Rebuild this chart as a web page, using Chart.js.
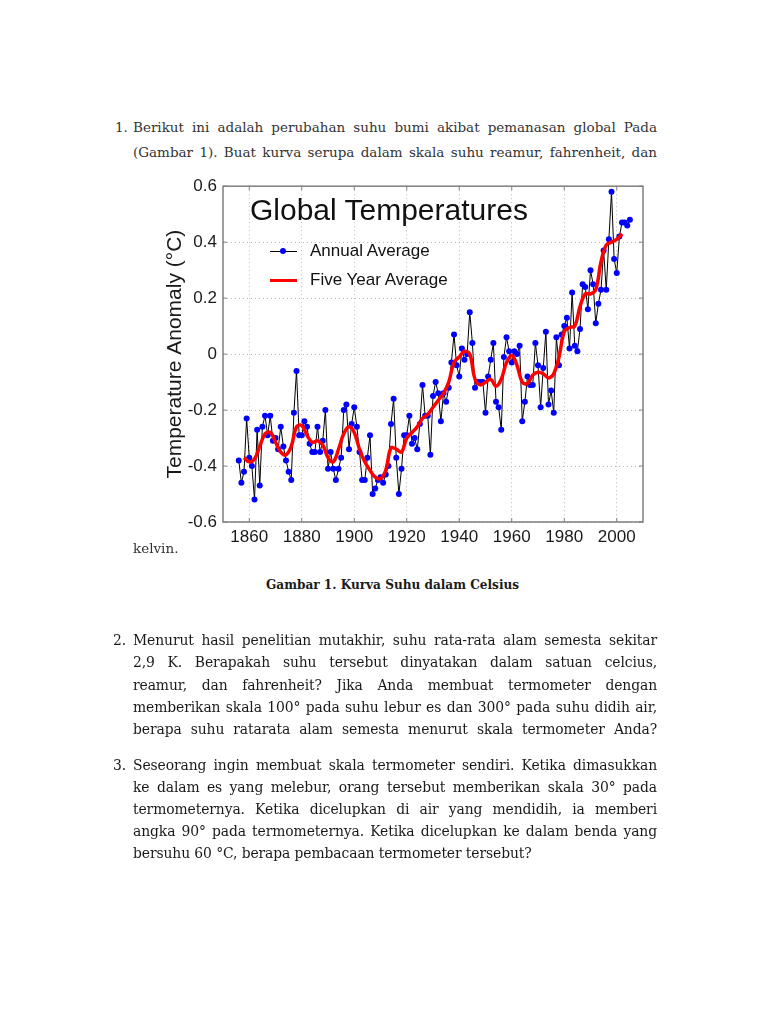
<!DOCTYPE html>
<html>
<head>
<meta charset="utf-8">
<script src="https://cdn.jsdelivr.net/npm/chart.js@4.4.1/dist/chart.umd.min.js"></script>
<style>
    body { margin: 0; background: #fff; }
    #page { position: relative; width: 768px; height: 1024px; overflow: hidden; background: #fff; }
    .txt { position: absolute; font-family: "DejaVu Serif", serif; color: #1a1a1a; white-space: nowrap; }
    .q1 { font-size: 13.5px; color: #333; height: 22px; line-height: 22px; }
    .q { font-size: 13.9px; letter-spacing: -0.1px; height: 22px; line-height: 22px; }
    .line { left: 133px; width: 524px; white-space: normal; }
    .just { text-align: justify; text-align-last: justify; }
    .caption { font-weight: bold; font-size: 12.1px; left: 266px; top: 575px; line-height: 20px; }
    #chart { position: absolute; left: 140px; top: 170px; }
    .sans { position: absolute; font-family: "Liberation Sans", Arial, sans-serif; color: #111; white-space: nowrap; }
    #chart-title { left: 250px; top: 192px; font-size: 30px; line-height: 36px; }
    .leg-text { left: 310px; font-size: 17px; line-height: 20px; }
    .leg-line { position: absolute; left: 270px; width: 27px; }
    .leg-dot { position: absolute; width: 6px; height: 6px; border-radius: 50%; background: #0000ff; }
</style>
</head>
<body>
<div id="page">
    <!-- soal 1 -->
    <div class="txt q1" style="left:115px; top:116px;">1.</div>
    <div class="txt q1 line just" style="top:116px;">Berikut ini adalah perubahan suhu bumi akibat pemanasan global Pada</div>
    <div class="txt q1 line just" style="top:141px;">(Gambar 1). Buat kurva serupa dalam skala suhu reamur, fahrenheit, dan</div>

    <canvas id="chart" width="515" height="382"></canvas>
    <div id="chart-title" class="sans">Global Temperatures</div>
    <div class="leg-line" style="top:251px; height:1px; background:#000;"></div>
    <div class="leg-dot" style="left:280px; top:248px;"></div>
    <div class="sans leg-text" style="top:241px;">Annual Average</div>
    <div class="leg-line" style="top:279px; height:3px; background:#ff0000;"></div>
    <div class="sans leg-text" style="top:270px;">Five Year Average</div>

    <div class="txt q1" style="left:133px; top:537px;">kelvin.</div>
    <div class="txt caption">Gambar 1. Kurva Suhu dalam Celsius</div>

    <!-- soal 2 -->
    <div class="txt q" style="left:113px; top:629px;">2.</div>
    <div class="txt q line just" style="top:629px;">Menurut hasil penelitian mutakhir, suhu rata-rata alam semesta sekitar</div>
    <div class="txt q line just" style="top:651px;">2,9 K. Berapakah suhu tersebut dinyatakan dalam satuan celcius,</div>
    <div class="txt q line just" style="top:674px;">reamur, dan fahrenheit? Jika Anda membuat termometer dengan</div>
    <div class="txt q line just" style="top:696px;">memberikan skala 100° pada suhu lebur es dan 300° pada suhu didih air,</div>
    <div class="txt q line just" style="top:718px;">berapa suhu ratarata alam semesta menurut skala termometer Anda?</div>

    <!-- soal 3 -->
    <div class="txt q" style="left:113px; top:754px;">3.</div>
    <div class="txt q line just" style="top:754px;">Seseorang ingin membuat skala termometer sendiri. Ketika dimasukkan</div>
    <div class="txt q line just" style="top:776px;">ke dalam es yang melebur, orang tersebut memberikan skala 30° pada</div>
    <div class="txt q line just" style="top:798px;">termometernya. Ketika dicelupkan di air yang mendidih, ia memberi</div>
    <div class="txt q line just" style="top:820px;">angka 90° pada termometernya. Ketika dicelupkan ke dalam benda yang</div>
    <div class="txt q" style="left:133px; top:842px;">bersuhu 60 °C, berapa pembacaan termometer tersebut?</div>
</div>

<script>
// Annual average anomaly (°C), one value per year starting at firstYear
const firstYear = 1856;
const annualAnomaly = [
    -0.38, -0.46, -0.42, -0.23,                                           // 1856-1859
    -0.37, -0.40, -0.52, -0.27, -0.47, -0.26, -0.22, -0.29, -0.22, -0.31, // 1860s
    -0.30, -0.34, -0.26, -0.33, -0.38, -0.42, -0.45, -0.21, -0.06, -0.29, // 1870s
    -0.29, -0.24, -0.26, -0.32, -0.35, -0.35, -0.26, -0.35, -0.31, -0.20, // 1880s
    -0.41, -0.35, -0.41, -0.45, -0.41, -0.37, -0.20, -0.18, -0.34, -0.25, // 1890s
    -0.19, -0.26, -0.35, -0.45, -0.45, -0.37, -0.29, -0.50, -0.48, -0.45, // 1900s
    -0.44, -0.46, -0.43, -0.40, -0.25, -0.16, -0.37, -0.50, -0.41, -0.29, // 1910s
    -0.29, -0.22, -0.32, -0.30, -0.34, -0.25, -0.11, -0.22, -0.22, -0.36, // 1920s
    -0.15, -0.10, -0.14, -0.24, -0.14, -0.17, -0.12, -0.03, 0.07, -0.04,  // 1930s
    -0.08, 0.02, -0.02, 0.00, 0.15, 0.04, -0.12, -0.10, -0.10, -0.10,     // 1940s
    -0.21, -0.08, -0.02, 0.04, -0.17, -0.19, -0.27, -0.01, 0.06, 0.01,    // 1950s
    -0.03, 0.01, 0.00, 0.03, -0.24, -0.17, -0.08, -0.11, -0.11, 0.04,     // 1960s
    -0.04, -0.19, -0.05, 0.08, -0.18, -0.13, -0.21, 0.06, -0.04, 0.07,    // 1970s
    0.10, 0.13, 0.02, 0.22, 0.03, 0.01, 0.09, 0.25, 0.24, 0.16,           // 1980s
    0.30, 0.25, 0.11, 0.18, 0.23, 0.37, 0.23, 0.41, 0.58, 0.34,           // 1990s
    0.29, 0.42, 0.47, 0.47, 0.46, 0.48                                    // 2000-2005
];

// Five year average
const fiveYearYears = [
    1858, 1860, 1862, 1864, 1866, 1868, 1870, 1872, 1874, 1876, 1878,
    1880, 1882, 1884, 1886, 1888, 1890, 1892, 1894, 1896, 1898,
    1900, 1902, 1904, 1906, 1908, 1910, 1912, 1914, 1916, 1918,
    1920, 1922, 1924, 1926, 1928, 1930, 1932, 1934, 1936, 1938,
    1940, 1942, 1944, 1946, 1948, 1950, 1952, 1954, 1956, 1958,
    1960, 1962, 1964, 1966, 1968, 1970, 1972, 1974, 1976, 1978,
    1980, 1982, 1984, 1986, 1988, 1990, 1992, 1994, 1996, 1998,
    2000, 2002
];
const fiveYearAvg = [
    -0.37, -0.385, -0.375, -0.33, -0.285, -0.28, -0.315, -0.35, -0.36, -0.33, -0.26,
    -0.255, -0.29, -0.315, -0.31, -0.325, -0.37, -0.385, -0.34, -0.285, -0.26,
    -0.28, -0.34, -0.385, -0.415, -0.44, -0.445, -0.415, -0.335, -0.34, -0.35,
    -0.30, -0.28, -0.26, -0.23, -0.215, -0.19, -0.165, -0.14, -0.10, -0.03,
    -0.01, 0.01, 0.00, -0.09, -0.11, -0.10, -0.09, -0.115, -0.09, -0.03,
    -0.005, -0.04, -0.10, -0.105, -0.075, -0.065, -0.07, -0.085, -0.07, -0.01,
    0.08, 0.095, 0.10, 0.17, 0.215, 0.215, 0.23, 0.33, 0.39, 0.40,
    0.41, 0.43
];

// Axis ticks
const xTicks = [1860, 1880, 1900, 1920, 1940, 1960, 1980, 2000];
const yTicks = [-0.6, -0.4, -0.2, 0, 0.2, 0.4, 0.6];

const tickFont = { family: '"Liberation Sans", Arial, sans-serif', size: 17 };

// Grey box round the plot with small inward ticks (matlab look)
const framePlugin = {
    id: 'frame',
    afterDraw(chart) {
        const { ctx, chartArea: a, scales } = chart;
        ctx.save();
        ctx.strokeStyle = '#7f7f7f';
        ctx.lineWidth = 1.5;
        ctx.strokeRect(a.left, a.top, a.right - a.left, a.bottom - a.top);
        ctx.lineWidth = 1;
        ctx.beginPath();
        scales.x.ticks.forEach(t => {
            const px = scales.x.getPixelForValue(t.value);
            ctx.moveTo(px, a.bottom); ctx.lineTo(px, a.bottom - 4);
            ctx.moveTo(px, a.top); ctx.lineTo(px, a.top + 4);
        });
        scales.y.ticks.forEach(t => {
            const py = scales.y.getPixelForValue(t.value);
            ctx.moveTo(a.left, py); ctx.lineTo(a.left + 4, py);
            ctx.moveTo(a.right, py); ctx.lineTo(a.right - 4, py);
        });
        ctx.stroke();
        ctx.restore();
    }
};

document.addEventListener('DOMContentLoaded', () => {
    const annualPoints = annualAnomaly.map((v, i) => ({ x: firstYear + i, y: v }));
    const fivePoints = fiveYearYears.map((yr, i) => ({ x: yr, y: fiveYearAvg[i] }));

    new Chart(document.getElementById('chart'), {
        type: 'line',
        data: {
            datasets: [
                {
                    label: 'Annual Average',
                    data: annualPoints,
                    borderColor: '#000',
                    borderWidth: 1,
                    pointRadius: 3,
                    pointBackgroundColor: '#0000ff',
                    pointBorderWidth: 0,
                    tension: 0,
                    order: 2
                },
                {
                    label: 'Five Year Average',
                    data: fivePoints,
                    borderColor: '#ff0000',
                    borderWidth: 3.5,
                    pointRadius: 0,
                    tension: 0.4,
                    order: 1
                }
            ]
        },
        options: {
            responsive: false,
            animation: false,
            layout: { padding: { left: 0, top: 10, right: 12, bottom: 0 } },
            plugins: {
                legend: { display: false },
                tooltip: { enabled: false }
            },
            scales: {
                x: {
                    type: 'linear',
                    min: 1850,
                    max: 2010,
                    afterBuildTicks: (scale) => { scale.ticks = xTicks.map(v => ({ value: v })); },
                    afterFit: (scale) => { scale.height = 30; },
                    ticks: {
                        font: tickFont,
                        color: '#1a1a1a',
                        padding: 5,
                        maxRotation: 0,
                        callback: (v) => String(v)
                    },
                    grid: { color: '#b8b8b8', drawTicks: false },
                    border: { display: false, dash: [1, 3] }
                },
                y: {
                    min: -0.6,
                    max: 0.6,
                    afterBuildTicks: (scale) => { scale.ticks = yTicks.map(v => ({ value: v })); },
                    afterFit: (scale) => { scale.width = 83; },
                    ticks: {
                        font: tickFont,
                        color: '#1a1a1a',
                        padding: 6,
                        callback: (v) => String(Math.round(v * 10) / 10)
                    },
                    grid: { color: '#b8b8b8', drawTicks: false },
                    border: { display: false, dash: [1, 3] },
                    title: {
                        display: true,
                        text: 'Temperature Anomaly (°C)',
                        font: { family: '"Liberation Sans", Arial, sans-serif', size: 21 },
                        color: '#1a1a1a',
                        padding: { top: 23, bottom: 0 }
                    }
                }
            }
        },
        plugins: [framePlugin]
    });
});
</script>
</body>
</html>
